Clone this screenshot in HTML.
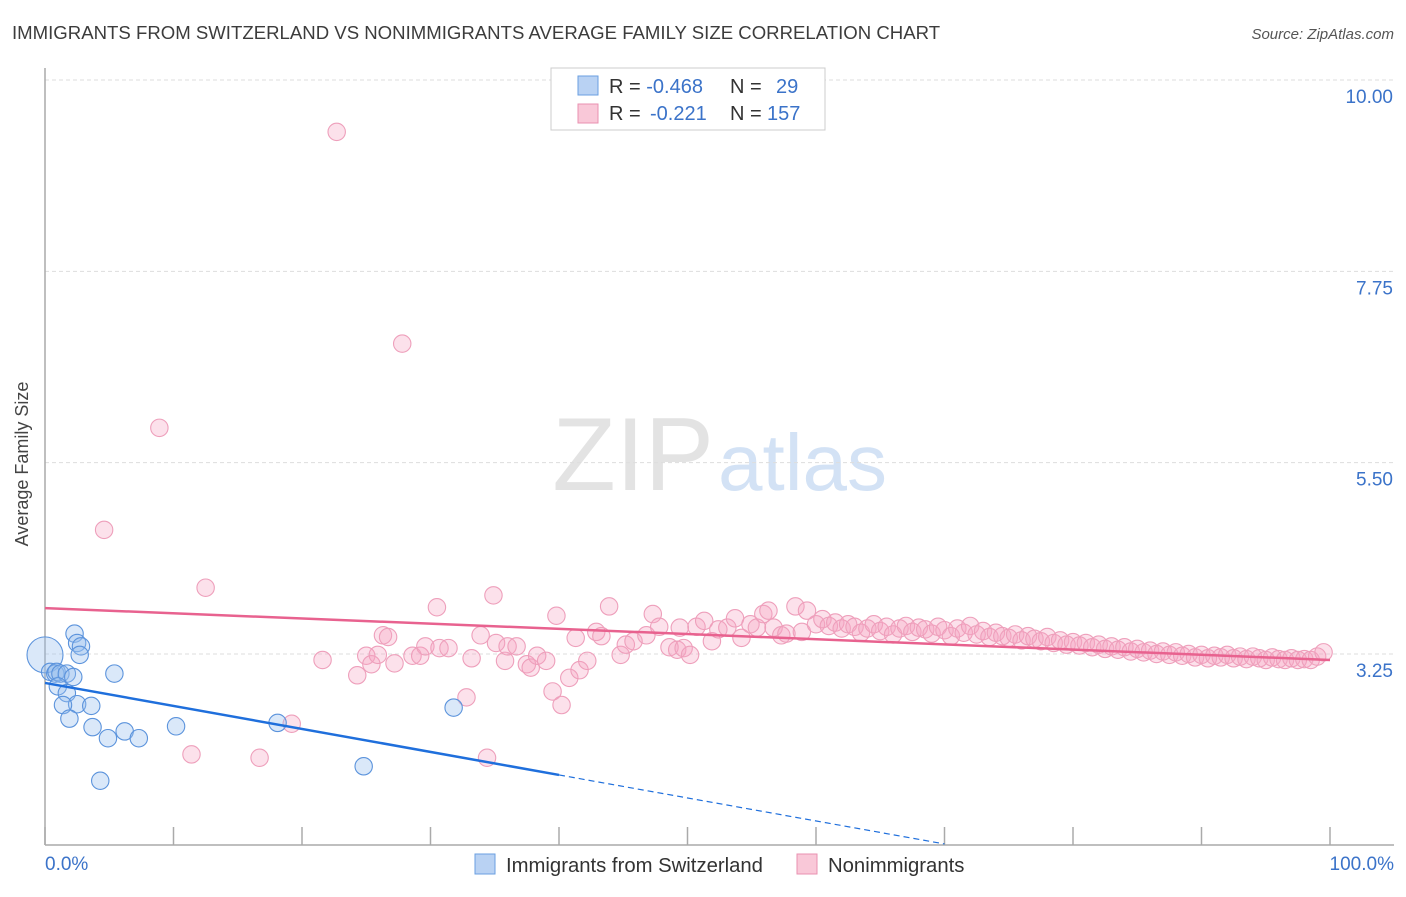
<!DOCTYPE html>
<html><head><meta charset="utf-8"><style>
body{margin:0;background:#fff;font-family:"Liberation Sans",sans-serif}
svg text{font-family:"Liberation Sans",sans-serif}
</style></head><body>
<svg width="1406" height="892" viewBox="0 0 1406 892" xmlns="http://www.w3.org/2000/svg">
<text x="12" y="39" font-size="18.6" fill="#3c3c3c">IMMIGRANTS FROM SWITZERLAND VS NONIMMIGRANTS AVERAGE FAMILY SIZE CORRELATION CHART</text>
<text x="1394" y="39" font-size="15" fill="#555" font-style="italic" text-anchor="end">Source: ZipAtlas.com</text>
<text x="714" y="490" font-size="104" fill="#e3e3e3" text-anchor="end" font-family="Liberation Serif">ZIP</text>
<text x="718" y="490" font-size="80" fill="#d3e2f5">atlas</text>
<g id="grid"></g>
<line x1="45" y1="68" x2="45" y2="845" stroke="#aaa" stroke-width="1.5"/>
<line x1="45" y1="845" x2="1394" y2="845" stroke="#aaa" stroke-width="1.5"/>
<g id="xticks"></g>
<text x="20" y="456" font-size="18" fill="#444" text-anchor="middle" transform="rotate(-90 28 456)">Average Family Size</text>
<text x="45" y="870" font-size="19" fill="#3b73c9">0.0%</text>
<text x="1394" y="870" font-size="19" fill="#3b73c9" text-anchor="end">100.0%</text>
<g id="pts"></g>
<g id="lines"></g>
<g>
<rect x="551" y="68" width="274" height="62" fill="#fff" stroke="#ccc"/>
<rect x="578" y="76" width="20" height="19" fill="#b9d2f3" stroke="#6a9fe0"/>
<rect x="578" y="104" width="20" height="19" fill="#f9c8d8" stroke="#e991b0"/>
<text x="609" y="93" font-size="20" fill="#333">R = <tspan fill="#3b73c9">-0.468</tspan><tspan x="730">N = </tspan><tspan x="776" fill="#3b73c9">29</tspan></text>
<text x="609" y="120" font-size="20" fill="#333">R = <tspan x="650" fill="#3b73c9">-0.221</tspan><tspan x="730">N = </tspan><tspan x="767" fill="#3b73c9">157</tspan></text>
</g>
<g>
<rect x="475" y="854" width="20" height="20" fill="#b9d2f3" stroke="#6a9fe0"/>
<text x="506" y="872" font-size="20.3" fill="#333">Immigrants from Switzerland</text>
<rect x="797" y="854" width="20" height="20" fill="#f9c8d8" stroke="#e991b0"/>
<text x="828" y="872" font-size="20.3" fill="#333">Nonimmigrants</text>
</g>
</svg>
<script>
const yTicks=[10.00,7.75,5.50,3.25];
const yTickLabels=["10.00","7.75","5.50","3.25"];
const bluePct=[0,2.3,2.5,2.8,2.7,0.4,0.8,0.9,1.2,1.7,2.2,1.0,1.7,2.5,1.4,3.6,1.9,3.7,4.9,6.2,7.3,5.4,10.2,18.1,31.8,24.8,4.3];
const blueVal=[3.24,3.49,3.38,3.34,3.24,3.04,3.02,3.04,3.02,3.02,2.98,2.87,2.79,2.66,2.65,2.64,2.49,2.39,2.26,2.34,2.26,3.02,2.40,2.44,2.62,1.93,1.76];
const pinkPct=[22.7,27.8,8.9,4.6,12.5,11.4,16.7,19.2,34.4,21.6,24.3,25.0,25.4,25.9,26.3,26.7,27.2,28.6,29.2,29.6,30.7,31.4,30.5,33.2,32.8,33.9,34.9,35.1,35.8,36.0,36.7,37.5,37.8,38.3,39.0,39.5,39.8,40.2,40.8,41.3,41.6,42.2,42.9,43.3,43.9,44.8,45.2,45.8,46.8,47.3,47.8,48.6,49.2,49.7,50.2,49.4,50.7,51.3,51.9,52.4,53.1,53.7,54.2,54.9,55.4,55.9,56.3,56.7,57.3,57.7,58.4,58.9,59.3,
60,60.5,61,61.5,62,62.5,63,63.5,64,64.5,65,65.5,66,66.5,67,67.5,68,68.5,69,69.5,70,70.5,71,71.5,72,72.5,73,73.5,74,74.5,75,75.5,76,76.5,77,77.5,78,78.5,79,79.5,80,80.5,81,81.5,82,82.5,83,83.5,84,84.5,85,85.5,86,86.5,87,87.5,88,88.5,89,89.5,90,90.5,91,91.5,92,92.5,93,93.5,94,94.5,95,95.5,96,96.5,97,97.5,98,98.5,99,99.5];
const pinkVal=[9.39,6.90,5.91,4.71,4.03,2.07,2.03,2.43,2.03,3.18,3.00,3.23,3.13,3.24,3.47,3.45,3.14,3.23,3.23,3.34,3.32,3.32,3.80,3.20,2.74,3.47,3.94,3.38,3.17,3.34,3.34,3.13,3.09,3.23,3.17,2.81,3.70,2.65,2.97,3.44,3.06,3.17,3.51,3.46,3.81,3.24,3.36,3.40,3.47,3.72,3.57,3.33,3.30,3.32,3.24,3.56,3.57,3.64,3.40,3.54,3.56,3.67,3.44,3.60,3.56,3.72,3.76,3.56,3.47,3.49,3.81,3.51,3.76,
3.60,3.66,3.58,3.62,3.55,3.60,3.57,3.50,3.55,3.60,3.52,3.57,3.48,3.55,3.58,3.51,3.56,3.54,3.49,3.57,3.53,3.46,3.55,3.50,3.58,3.48,3.52,3.45,3.50,3.46,3.44,3.48,3.41,3.46,3.43,3.40,3.45,3.38,3.41,3.36,3.39,3.35,3.38,3.33,3.36,3.31,3.34,3.30,3.33,3.28,3.31,3.27,3.29,3.25,3.28,3.24,3.27,3.23,3.25,3.21,3.24,3.20,3.23,3.21,3.24,3.20,3.22,3.19,3.22,3.20,3.18,3.21,3.19,3.18,3.20,3.18,3.19,3.18,3.22,3.27];
const blueTrend=[2.91,0.205];
const pinkTrend=[3.79,3.18];
const NS="http://www.w3.org/2000/svg";
const X=p=>45+p*12.85;
const Y=v=>80+(10-v)*85.04;
function mk(t,a,parent){const e=document.createElementNS(NS,t);for(const k in a)e.setAttribute(k,a[k]);document.getElementById(parent).appendChild(e);return e;}
yTicks.forEach((v,i)=>{
 const l=mk('line',{x1:45,x2:1394,y1:Y(v),y2:Y(v),stroke:'#ddd','stroke-dasharray':'4 3'},'grid');
 
 
 const t=mk('text',{x:1393,y:Y(v)+23,'font-size':19,fill:'#3b73c9','text-anchor':'end'},'grid');
 t.textContent=yTickLabels[i];
 
 
});
for(let i=0;i<=10;i++){
 const l=mk('line',{x1:X(i*10),x2:X(i*10),y1:827,y2:845,stroke:'#aaa','stroke-width':1.5},'xticks');
 
 
}
pinkPct.forEach((p,i)=>{
 const c=mk('circle',{cx:X(p),cy:Y(pinkVal[i]),r:8.7,fill:'rgba(246,165,194,0.33)',stroke:'#ee9fbb','stroke-width':1.1},'pts');
 
 
});
bluePct.forEach((p,i)=>{
 const c=mk('circle',{cx:X(p),cy:Y(blueVal[i]),r:i===0?18:8.7,fill:'rgba(150,190,238,0.35)',stroke:'#5b93dc','stroke-width':1.1},'pts');
 
 
});
const bAt=p=>blueTrend[0]+(blueTrend[1]-blueTrend[0])*p/100;
let l=mk('line',{x1:X(0),y1:Y(bAt(0)),x2:X(40),y2:Y(bAt(40)),stroke:'#1f6fdc','stroke-width':2.5},'lines');


l=mk('line',{x1:X(40),y1:Y(bAt(40)),x2:X(70),y2:Y(bAt(70)),stroke:'#1f6fdc','stroke-width':1.2,'stroke-dasharray':'6 4'},'lines');


l=mk('line',{x1:X(0),y1:Y(pinkTrend[0]),x2:X(100),y2:Y(pinkTrend[1]),stroke:'#e8628f','stroke-width':2.5},'lines');


</script>
</body></html>
